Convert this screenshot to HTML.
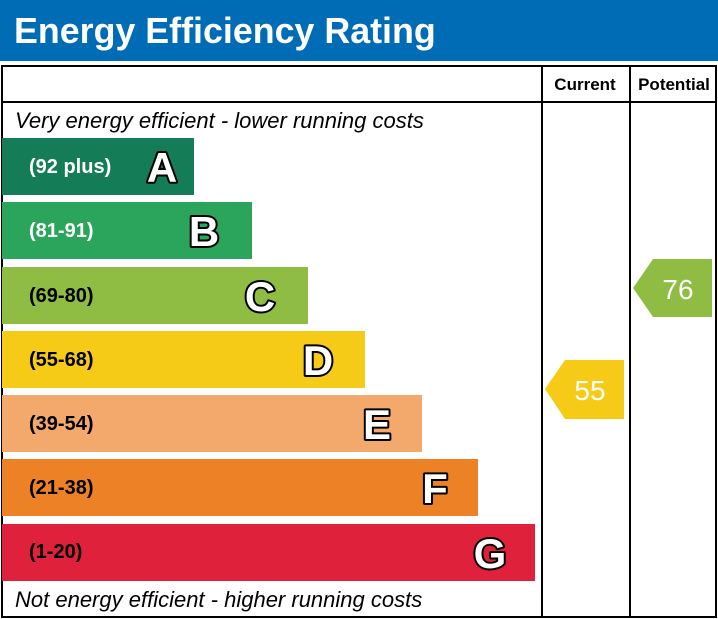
<!DOCTYPE html>
<html><head><style>body{margin:0;background:#fff}svg{display:block}</style></head><body>
<svg width="718" height="619" xmlns="http://www.w3.org/2000/svg" font-family="Liberation Sans, Arial, sans-serif">
<rect x="0" y="0" width="718" height="61" fill="#006cb6"/>
<text x="14" y="43" font-size="35.8" font-weight="bold" fill="#fff">Energy Efficiency Rating</text>
<g stroke="#000" stroke-width="2" fill="none">
<rect x="2" y="66" width="714" height="551"/>
<line x1="2" y1="102" x2="716" y2="102"/>
<line x1="542" y1="66" x2="542" y2="617"/>
<line x1="630" y1="66" x2="630" y2="617"/>
</g>
<text x="585" y="90" font-size="17" font-weight="bold" text-anchor="middle">Current</text>
<text x="674" y="90" font-size="17" font-weight="bold" text-anchor="middle">Potential</text>
<text x="15" y="128" font-size="22" font-style="italic">Very energy efficient - lower running costs</text>
<text x="15" y="607" font-size="22" font-style="italic">Not energy efficient - higher running costs</text>
<g font-weight="bold">
<rect x="2" y="138" width="192" height="57" fill="#147d57"/>
<text x="29" y="173" font-size="20" fill="#fff">(92 plus)</text>
<rect x="2" y="202" width="250" height="57" fill="#2aa55b"/>
<text x="29" y="237" font-size="20" fill="#fff">(81-91)</text>
<rect x="2" y="267" width="306" height="57" fill="#8fbd43"/>
<text x="29" y="302" font-size="20" fill="#000">(69-80)</text>
<rect x="2" y="331" width="363" height="57" fill="#f5cb17"/>
<text x="29" y="366" font-size="20" fill="#000">(55-68)</text>
<rect x="2" y="395" width="420" height="57" fill="#f2a96b"/>
<text x="29" y="430" font-size="20" fill="#000">(39-54)</text>
<rect x="2" y="459" width="476" height="57" fill="#ec8125"/>
<text x="29" y="494" font-size="20" fill="#000">(21-38)</text>
<rect x="2" y="524" width="533" height="57" fill="#e0213b"/>
<text x="29" y="558" font-size="20" fill="#000">(1-20)</text>
<g font-size="42" fill="#fff" stroke="#000" stroke-width="4" paint-order="stroke" stroke-linejoin="round" text-anchor="middle">
<text x="162" y="182">A</text>
<text x="204" y="246">B</text>
<text x="260" y="311">C</text>
<text x="318" y="375">D</text>
<text x="377" y="439">E</text>
<text x="435" y="503">F</text>
<text x="490" y="568">G</text>
</g>
</g>
<polygon points="545,389 565,360 624,360 624,419 565,419" fill="#f5cb17"/>
<text x="590" y="400" font-size="28" fill="#fff" text-anchor="middle">55</text>
<polygon points="633,288 653,259 712,259 712,317 653,317" fill="#8fbd43"/>
<text x="678" y="299" font-size="28" fill="#fff" text-anchor="middle">76</text>
</svg>
</body></html>
